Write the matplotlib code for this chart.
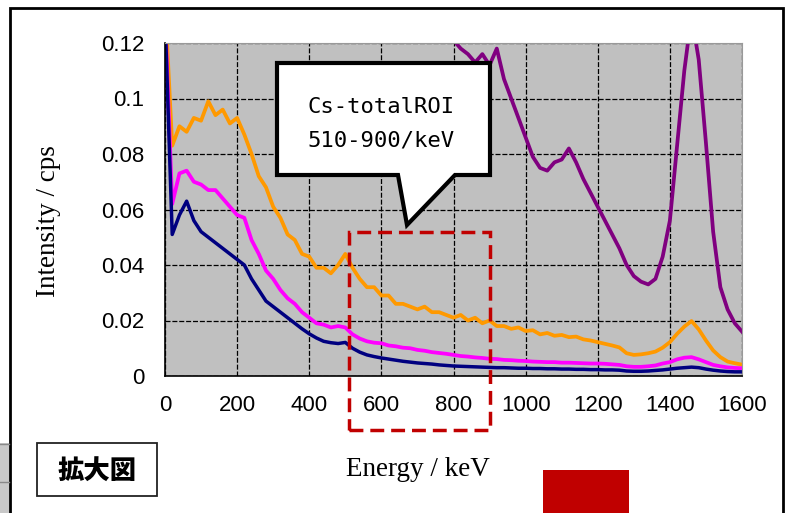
import numpy as np
import matplotlib.pyplot as plt
from matplotlib.patches import Rectangle, Polygon

# energy channels (keV), 20 keV bins
energy = list(range(0, 1601, 20))

orange = [0.135, 0.083, 0.090, 0.088, 0.093, 0.092, 0.099, 0.094, 0.096, 0.091,
          0.093, 0.087, 0.080, 0.072, 0.068, 0.061, 0.057, 0.051, 0.049, 0.044,
          0.043, 0.039, 0.039, 0.037, 0.040, 0.044, 0.039, 0.035, 0.032, 0.032,
          0.029, 0.029, 0.026, 0.026, 0.025, 0.024, 0.025, 0.023, 0.023, 0.022,
          0.021, 0.022, 0.020, 0.021, 0.019, 0.020, 0.018, 0.018, 0.017, 0.0175,
          0.0162, 0.0165, 0.015, 0.0155, 0.0145, 0.0148, 0.014, 0.0142, 0.0132, 0.0128,
          0.0122, 0.0116, 0.011, 0.0103, 0.0082, 0.0076, 0.0078, 0.0082, 0.0088, 0.0102,
          0.0122, 0.0152, 0.0178, 0.0198, 0.0168, 0.0128, 0.0092, 0.0068, 0.0052, 0.0046,
          0.0041]

magenta = [0.130, 0.062, 0.073, 0.074, 0.070, 0.069, 0.067, 0.067, 0.064, 0.061,
           0.058, 0.057, 0.049, 0.044, 0.038, 0.035, 0.031, 0.028, 0.026, 0.023,
           0.021, 0.019, 0.0185, 0.0175, 0.018, 0.0175, 0.015, 0.0135, 0.0125, 0.012,
           0.0118, 0.011, 0.0107, 0.0102, 0.0100, 0.0094, 0.0091, 0.0086, 0.0083, 0.0080,
           0.0076, 0.0072, 0.0070, 0.0067, 0.0065, 0.0062, 0.0061, 0.0058, 0.0057, 0.0055,
           0.0054, 0.0052, 0.0051, 0.0050, 0.0050, 0.0048, 0.0048, 0.0047, 0.0046, 0.0045,
           0.0045, 0.0044, 0.0042, 0.0040, 0.0035, 0.0033, 0.0033, 0.0035, 0.0038, 0.0045,
           0.0050, 0.0060, 0.0066, 0.0068, 0.0060, 0.0050, 0.0040, 0.0035, 0.0031, 0.0029,
           0.0028]

navy = [0.130, 0.051, 0.058, 0.063, 0.056, 0.052, 0.050, 0.048, 0.046, 0.044,
        0.042, 0.040, 0.035, 0.031, 0.027, 0.025, 0.023, 0.021, 0.019, 0.017,
        0.0152, 0.0137, 0.0125, 0.0120, 0.0117, 0.0121, 0.0100, 0.0086, 0.0076, 0.0070,
        0.0065, 0.0061, 0.0057, 0.0053, 0.0050, 0.0047, 0.0045, 0.0043, 0.0040, 0.0038,
        0.0036, 0.0035, 0.0034, 0.0033, 0.0032, 0.0031, 0.0030, 0.0030, 0.0029, 0.0028,
        0.0028, 0.0027, 0.0027, 0.0026, 0.0026, 0.0025, 0.0025, 0.0024, 0.0024, 0.0023,
        0.0023, 0.0022, 0.0022, 0.0021, 0.0018, 0.0017, 0.0017, 0.0018, 0.0020, 0.0022,
        0.0025, 0.0028, 0.0030, 0.0032, 0.0030, 0.0025, 0.0021, 0.0018, 0.0016, 0.0015,
        0.0015]

# purple spectrum only visible from ~800 keV
purple_energy = energy[39:]
purple = [0.128, 0.121, 0.118, 0.116, 0.113, 0.116, 0.112, 0.118, 0.107, 0.100,
          0.093, 0.086, 0.079, 0.075, 0.074, 0.077, 0.078, 0.082, 0.077, 0.071,
          0.066, 0.061, 0.056, 0.051, 0.046, 0.040, 0.036, 0.034, 0.033, 0.035,
          0.043, 0.056, 0.083, 0.110, 0.130, 0.114, 0.084, 0.052, 0.032, 0.024,
          0.019, 0.016]

roi = (510, 900)
xticks = list(range(0, 1601, 200))
yticks = [0, 0.02, 0.04, 0.06, 0.08, 0.1, 0.12]
ytick_labels = ["0", "0.02", "0.04", "0.06", "0.08", "0.1", "0.12"]

W, H = 790, 513


def fpos(x, y):
    # pixel (from top-left) -> figure fraction
    return (x / W, 1 - y / H)


fig = plt.figure(figsize=(W / 100, H / 100), dpi=100)
ax = fig.add_axes([165 / W, 1 - 376 / H, 577 / W, 333 / H])
ax.set_facecolor("#c0c0c0")

ax.plot(purple_energy, purple, color="#800080", lw=2.7)
ax.plot(energy, orange, color="#ff9900", lw=2.7)
ax.plot(energy, magenta, color="#ff00ff", lw=2.7)
ax.plot(energy, navy, color="#000080", lw=2.5)

ax.set_xlim(0, 1600)
ax.set_ylim(0, 0.12)
ax.set_xticks(xticks)
ax.set_yticks(yticks)
ax.set_yticklabels(ytick_labels)
ax.grid(True, color="black", lw=0.9, linestyle=(0, (4, 1.5)))
ax.tick_params(length=0, labelsize=16)
ax.tick_params(axis="y", pad=15)
ax.tick_params(axis="x", pad=14)
for lab in ax.get_xticklabels() + ax.get_yticklabels():
    lab.set_fontfamily("Liberation Sans")
for s in ["left", "bottom"]:
    ax.spines[s].set_color("black")
    ax.spines[s].set_linewidth(1.2)
for s in ["top", "right"]:
    ax.spines[s].set_color("#999999")
    ax.spines[s].set_linewidth(0.8)

# ROI box
ax.add_patch(Rectangle((roi[0], -0.0195), roi[1] - roi[0], 0.0715, fill=False,
                       edgecolor="#c00000", lw=2.5, linestyle=(0, (4, 2)),
                       clip_on=False, zorder=5))

# callout
pts = [(277, 63), (490, 63), (490, 175), (455, 175), (407, 225), (398, 175), (277, 175)]
fig.add_artist(Polygon([fpos(x, y) for x, y in pts], closed=True, facecolor="white",
                       edgecolor="black", lw=3, transform=fig.transFigure, zorder=6,
                       joinstyle="miter"))
fig.text(*fpos(381, 107), "Cs-totalROI", ha="center", va="center", fontsize=16,
         family="DejaVu Sans Mono", zorder=7)
fig.text(*fpos(381, 140), "510-900/keV", ha="center", va="center", fontsize=16,
         family="DejaVu Sans Mono", zorder=7)

# axis labels
fig.text(*fpos(49, 221), "Intensity / cps", rotation=90, ha="center", va="center",
         fontsize=19.5, family="Liberation Serif")
fig.text(*fpos(418, 470), "Energy / keV", ha="center", va="center",
         fontsize=19.5, family="Liberation Serif")

# outer frame and decorations
fig.add_artist(Rectangle(fpos(0, 513), 9 / W, 70 / H, facecolor="#c8c8c8",
                         edgecolor="none", transform=fig.transFigure))
fig.add_artist(plt.Line2D([0, 9 / W], [1 - 444 / H] * 2, color="#888888", lw=1,
                          transform=fig.transFigure))
fig.add_artist(plt.Line2D([0, 9 / W], [1 - 482 / H] * 2, color="#888888", lw=1,
                          transform=fig.transFigure))
fig.add_artist(Polygon([fpos(10, 520), fpos(10, 8), fpos(783, 8), fpos(783, 520)],
                       closed=False, fill=False, edgecolor="black", lw=2,
                       transform=fig.transFigure))

fig.add_artist(Rectangle(fpos(37, 496), 120 / W, 53 / H, facecolor="white",
                         edgecolor="#222222", lw=1.3, transform=fig.transFigure))
fig.text(*fpos(97, 471), "拡大図", ha="center", va="center", fontsize=19,
         fontweight="heavy", family=["Noto Sans CJK JP", "DejaVu Sans"])

fig.add_artist(Rectangle(fpos(543, 520), 86 / W, 50 / H, facecolor="#c00000",
                         edgecolor="none", transform=fig.transFigure))

fig.savefig("out.png", dpi=100)
